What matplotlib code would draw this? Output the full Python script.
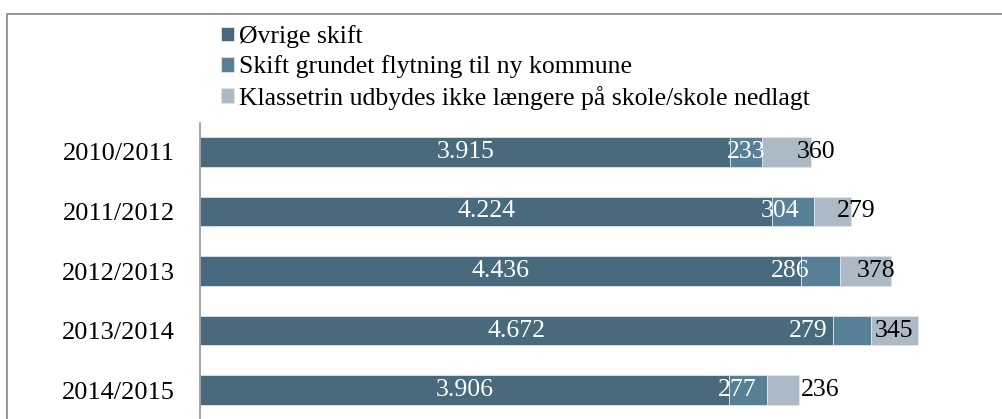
import matplotlib.pyplot as plt
from matplotlib.patches import Rectangle

plt.rcParams['font.family'] = ['Liberation Serif', 'DejaVu Serif']

years = ['2010/2011', '2011/2012', '2012/2013', '2013/2014', '2014/2015']
ovrige = [3915, 4224, 4436, 4672, 3906]
flytning = [233, 304, 286, 279, 277]
nedlagt = [360, 279, 378, 345, 236]

names = ['Øvrige skift', 'Skift grundet flytning til ny kommune',
         'Klassetrin udbydes ikke længere på skole/skole nedlagt']
colors = ['#486a7c', '#577f96', '#abbac4']

# label nudges in pixels (labels were moved by hand in the original)
nudge2 = [0, -13, -30, -44, -11]
nudge3 = [30, 24, 11, 0, 37]

fig = plt.figure(figsize=(10.02, 4.19), dpi=100)
W, H = 1002, 419

# chart-area border (cut off at right and bottom)
fig.patches.append(Rectangle((7 / W, -0.1), 1.1, (H - 14) / H + 0.1,
                             transform=fig.transFigure, fill=False,
                             edgecolor='#8c8c8c', linewidth=1.3))

ax = fig.add_axes([200 / W, 0, 790 / W, (H - 123) / H])
y = range(len(years))
left2 = [a for a in ovrige]
left3 = [a + b for a, b in zip(ovrige, flytning)]
ax.barh(y, ovrige, height=0.5, color=colors[0], edgecolor='#dfe5e9', linewidth=0.6, label=names[0])
ax.barh(y, flytning, left=left2, height=0.5, color=colors[1], edgecolor='#dfe5e9', linewidth=0.6, label=names[1])
ax.barh(y, nedlagt, left=left3, height=0.5, color=colors[2], edgecolor='#dfe5e9', linewidth=0.6, label=names[2])

for i in y:
    ax.text(ovrige[i] / 2, i, f'{ovrige[i] // 1000}.{ovrige[i] % 1000:03d}',
            ha='center', va='center', color='white', fontsize=18.5)
    ax.annotate(str(flytning[i]), (left2[i] + flytning[i] / 2, i),
                xytext=(nudge2[i] * 0.72, 0), textcoords='offset points',
                ha='center', va='center', color='white', fontsize=18.5)
    ax.annotate(str(nedlagt[i]), (left3[i] + nedlagt[i] / 2, i),
                xytext=(nudge3[i] * 0.72, 0), textcoords='offset points',
                ha='center', va='center', color='black', fontsize=18.5)

ax.set_xlim(0, 790 / 0.1355)
ax.set_ylim(4.487, -0.487)
ax.set_yticks(list(y))
ax.set_yticklabels(years, fontsize=19)
ax.tick_params(axis='y', length=0, pad=18)
ax.set_xticks([])
for s in ['top', 'right', 'bottom']:
    ax.spines[s].set_visible(False)
ax.spines['left'].set_color('#8c8c8c')
ax.spines['left'].set_linewidth(1.1)

fig.legend(loc='upper left', bbox_to_anchor=(211 / W, (H - 15) / H),
           frameon=False, fontsize=18.5, handlelength=0.5, handleheight=0.5,
           handletextpad=0.2, labelspacing=0.28, borderaxespad=0)

fig.savefig('out.png', dpi=100)
